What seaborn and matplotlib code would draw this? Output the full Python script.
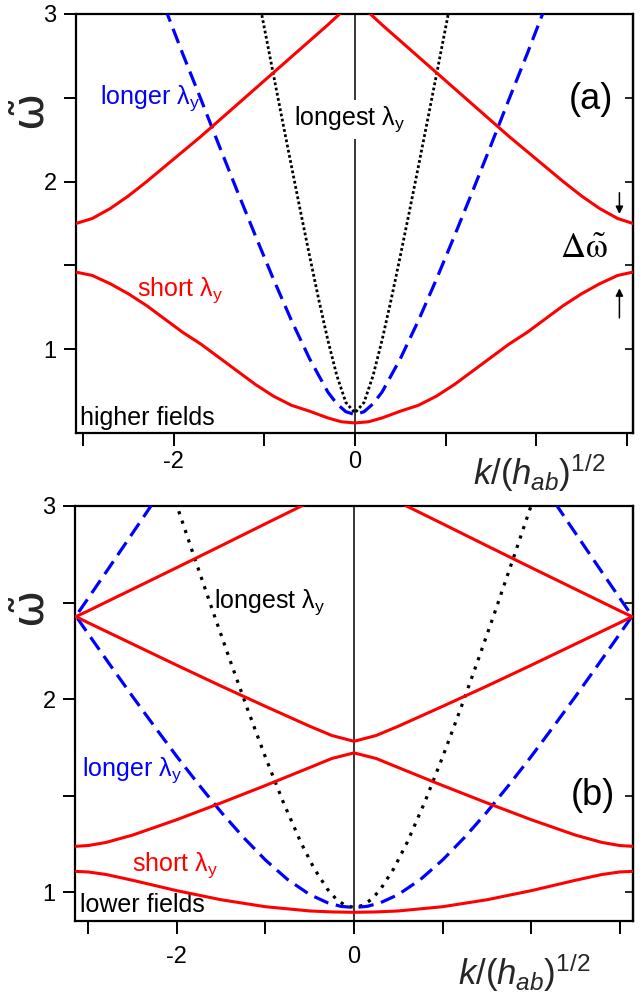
import matplotlib
matplotlib.use("Agg")
import matplotlib.pyplot as plt
import seaborn as sns

# ---- panel (a): higher fields ----
xa_red = [-3.08, -2.9, -2.7, -2.5, -2.3, -2.1, -1.9, -1.7, -1.5, -1.3, -1.1, -0.9, -0.7, -0.5, -0.3, -0.15, 0.0,
          0.15, 0.3, 0.5, 0.7, 0.9, 1.1, 1.3, 1.5, 1.7, 1.9, 2.1, 2.3, 2.5, 2.7, 2.9, 3.07]
ya_red_up = [1.75, 1.78, 1.84, 1.915, 2.00, 2.09, 2.18, 2.27, 2.365, 2.46, 2.555, 2.65, 2.745, 2.84, 2.935, 3.01, 3.08,
             3.01, 2.935, 2.84, 2.745, 2.65, 2.555, 2.46, 2.365, 2.27, 2.18, 2.09, 2.00, 1.915, 1.84, 1.78, 1.75]
ya_red_lo = [1.46, 1.44, 1.39, 1.33, 1.26, 1.18, 1.10, 1.03, 0.95, 0.87, 0.79, 0.72, 0.665, 0.63, 0.59, 0.567, 0.56,
             0.567, 0.59, 0.63, 0.665, 0.72, 0.79, 0.87, 0.95, 1.03, 1.10, 1.18, 1.26, 1.33, 1.39, 1.44, 1.46]
xa_blue = [-2.1, -1.9, -1.7, -1.5, -1.3, -1.1, -0.9, -0.7, -0.5, -0.3, -0.2, -0.1, 0.0,
           0.1, 0.2, 0.3, 0.5, 0.7, 0.9, 1.1, 1.3, 1.5, 1.7, 1.9, 2.1]
ya_blue = [3.04, 2.76, 2.49, 2.215, 1.944, 1.678, 1.418, 1.17, 0.942, 0.745, 0.674, 0.627, 0.61,
           0.627, 0.674, 0.745, 0.942, 1.17, 1.418, 1.678, 1.944, 2.215, 2.49, 2.76, 3.04]
xa_black = [-1.05, -1.0, -0.9, -0.8, -0.7, -0.6, -0.5, -0.4, -0.3, -0.2, -0.1, 0.0,
            0.1, 0.2, 0.3, 0.4, 0.5, 0.6, 0.7, 0.8, 0.9, 1.0, 1.05]
ya_black = [3.055, 2.916, 2.638, 2.362, 2.089, 1.819, 1.554, 1.297, 1.056, 0.842, 0.682, 0.62,
            0.682, 0.842, 1.056, 1.297, 1.554, 1.819, 2.089, 2.362, 2.638, 2.916, 3.055]

# ---- panel (b): lower fields ----
xb_red = [-3.14, -3.0, -2.8, -2.5, -2.0, -1.5, -1.0, -0.5, -0.25, 0.0, 0.25, 0.5, 1.0, 1.5, 2.0, 2.5, 2.8, 3.0, 3.14]
yb_red1 = [2.427, 2.457, 2.502, 2.569, 2.681, 2.794, 2.908, 3.021, 3.078, 3.135,
           3.078, 3.021, 2.908, 2.794, 2.681, 2.569, 2.502, 2.457, 2.427]
yb_red2 = [2.427, 2.395, 2.351, 2.285, 2.175, 2.067, 1.962, 1.859, 1.811, 1.781,
           1.811, 1.859, 1.962, 2.067, 2.175, 2.285, 2.351, 2.395, 2.427]
yb_red3 = [1.237, 1.241, 1.257, 1.295, 1.375, 1.462, 1.552, 1.645, 1.692, 1.721,
           1.692, 1.645, 1.552, 1.462, 1.375, 1.295, 1.257, 1.241, 1.237]
yb_red4 = [1.107, 1.104, 1.091, 1.061, 1.007, 0.960, 0.924, 0.902, 0.897, 0.895,
           0.897, 0.902, 0.924, 0.960, 1.007, 1.061, 1.091, 1.104, 1.107]
xb_blue = [-2.28, -2.4, -2.6, -2.8, -3.0, -3.14, -3.0, -2.75, -2.5, -2.25, -2.0, -1.75, -1.5, -1.25, -1.0,
           -0.75, -0.5, -0.3, -0.15, 0.0, 0.15, 0.3, 0.5, 0.75, 1.0, 1.25, 1.5, 1.75, 2.0, 2.25, 2.5, 2.75,
           3.0, 3.14, 3.0, 2.8, 2.6, 2.4, 2.28]
yb_blue = [3.009, 2.927, 2.792, 2.657, 2.523, 2.43, 2.337, 2.174, 2.013, 1.856, 1.702, 1.555, 1.414, 1.284, 1.166,
           1.065, 0.987, 0.945, 0.926, 0.92, 0.926, 0.945, 0.987, 1.065, 1.166, 1.284, 1.414, 1.555, 1.702, 1.856,
           2.013, 2.174, 2.337, 2.43, 2.523, 2.657, 2.792, 2.927, 3.009]
xb_black = [-2.05, -1.8, -1.6, -1.4, -1.2, -1.0, -0.8, -0.6, -0.45, -0.3, -0.2, -0.1, 0.0,
            0.1, 0.2, 0.3, 0.45, 0.6, 0.8, 1.0, 1.2, 1.4, 1.6, 1.8, 2.05]
yb_black = [3.07, 2.731, 2.463, 2.201, 1.945, 1.699, 1.467, 1.257, 1.122, 1.015, 0.963, 0.931, 0.92,
            0.931, 0.963, 1.015, 1.122, 1.257, 1.467, 1.699, 1.945, 2.201, 2.463, 2.731, 3.07]

x_ticks = [-3, -2, -1, 0, 1, 2, 3]
x_ticklabels = ['', '-2', '', '0', '', '', '']
y_ticks = [1, 1.5, 2, 2.5, 3]
y_ticklabels = ['1', '', '2', '', '3']

sns.set_theme(style="ticks")
plt.rcParams['font.family'] = ['Liberation Sans', 'DejaVu Sans']
plt.rcParams['mathtext.fontset'] = 'custom'
plt.rcParams['mathtext.rm'] = 'Liberation Sans'
plt.rcParams['mathtext.it'] = 'Liberation Sans:italic'
plt.rcParams['mathtext.bf'] = 'Liberation Sans:bold'

RED = '#ff0000'
BLUE = '#0000ff'
fig = plt.figure(figsize=(6.42, 10.08), dpi=100)
ax_a = fig.add_axes([76 / 642, 1 - 433 / 1008, 557 / 642, 419 / 1008])
ax_b = fig.add_axes([75 / 642, 1 - 921 / 1008, 558 / 642, 415 / 1008])


def style_axes(ax, xlim, ylim, xpad):
    ax.set_xlim(*xlim)
    ax.set_ylim(*ylim)
    ax.set_xticks(x_ticks, x_ticklabels)
    ax.set_yticks(y_ticks, y_ticklabels)
    ax.tick_params(axis='both', direction='out', length=9, width=1.4, labelsize=17,
                   colors='black', top=False, right=False)
    ax.tick_params(axis='x', pad=xpad)
    ax.tick_params(axis='y', pad=5)
    for s in ax.spines.values():
        s.set_visible(True)
        s.set_linewidth(1.6)
        s.set_color('black')
    sec = ax.secondary_yaxis('right')
    sec.set_yticks(y_ticks)
    sec.tick_params(direction='in', length=6, width=1.4, labelright=False)
    sec.spines['right'].set_linewidth(1.6)
    ax.set_xlabel('')
    ax.set_ylabel('')
    ax.axvline(0, color='black', lw=1.1, zorder=1)


# panel (a)
sns.lineplot(x=xa_black, y=ya_black, ax=ax_a, color='black', linewidth=2.0,
             linestyle=(0, (1.0, 0.9)), sort=False, estimator=None, zorder=2)
sns.lineplot(x=xa_blue, y=ya_blue, ax=ax_a, color=BLUE, linewidth=2.3,
             linestyle=(0, (4.8, 2.4)), sort=False, estimator=None, zorder=3)
sns.lineplot(x=xa_red, y=ya_red_up, ax=ax_a, color=RED, linewidth=2.2, sort=False, estimator=None, zorder=4)
sns.lineplot(x=xa_red, y=ya_red_lo, ax=ax_a, color=RED, linewidth=2.2, sort=False, estimator=None, zorder=4)
style_axes(ax_a, (-3.08, 3.07), (0.5, 3.0), 4)

ax_a.text(-2.81, 2.50, r'longer λ$_\mathrm{y}$', color=BLUE, fontsize=18, va='center')
ax_a.text(-0.67, 2.37, r'longest λ$_\mathrm{y}$', color='black', fontsize=18, va='center', zorder=5,
          bbox=dict(facecolor='white', edgecolor='none', boxstyle='square,pad=0.2'))
ax_a.text(-2.41, 1.35, r'short λ$_\mathrm{y}$', color=RED, fontsize=18, va='center')
ax_a.text(-3.04, 0.59, 'higher fields', color='black', fontsize=18, va='center')
ax_a.text(2.36, 2.49, '(a)', color='black', fontsize=26, va='center')
ax_a.text(2.26, 1.60, r'$\Delta\tilde{\mathrm{\omega}}$', color='black', fontsize=25, va='center',
          math_fontfamily='stix')
ax_a.annotate('', xy=(2.92, 1.79), xytext=(2.92, 1.95),
              arrowprops=dict(arrowstyle='-|>', color='black', lw=1.1, mutation_scale=11))
ax_a.annotate('', xy=(2.92, 1.38), xytext=(2.92, 1.17),
              arrowprops=dict(arrowstyle='-|>', color='black', lw=1.1, mutation_scale=11))

# panel (b)
sns.lineplot(x=xb_black, y=yb_black, ax=ax_b, color='black', linewidth=2.3,
             linestyle=(0, (1.0, 2.1)), sort=False, estimator=None, zorder=2)
sns.lineplot(x=xb_blue, y=yb_blue, ax=ax_b, color=BLUE, linewidth=2.3,
             linestyle=(0, (4.8, 2.4)), sort=False, estimator=None, zorder=3)
for yr in (yb_red1, yb_red2, yb_red3, yb_red4):
    sns.lineplot(x=xb_red, y=yr, ax=ax_b, color=RED, linewidth=2.2, sort=False, estimator=None, zorder=4)
style_axes(ax_b, (-3.15, 3.15), (0.85, 3.0), 9)

ax_b.text(-1.58, 2.50, r'longest λ$_\mathrm{y}$', color='black', fontsize=18, va='center')
ax_b.text(-3.07, 1.63, r'longer λ$_\mathrm{y}$', color=BLUE, fontsize=18, va='center')
ax_b.text(-2.51, 1.14, r'short λ$_\mathrm{y}$', color=RED, fontsize=18, va='center')
ax_b.text(-3.09, 0.935, 'lower fields', color='black', fontsize=18, va='center')
ax_b.text(2.45, 1.50, '(b)', color='black', fontsize=26, va='center')

# axis labels
fig.text(473 / 642, 0.519, r'$\mathit{k/(h_{ab})^{1/2}}$', fontsize=25, va='baseline', ha='left')
fig.text(458 / 642, 0.023, r'$\mathit{k/(h_{ab})^{1/2}}$', fontsize=25, va='baseline', ha='left')
for yl in (1 - 113 / 1008, 1 - 610 / 1008):
    fig.text(33 / 642, yl, r'$\tilde{\mathrm{\omega}}$', fontsize=32, rotation=90,
             ha='center', va='center', math_fontfamily='dejavusans')

fig.savefig('out.png', dpi=100)
